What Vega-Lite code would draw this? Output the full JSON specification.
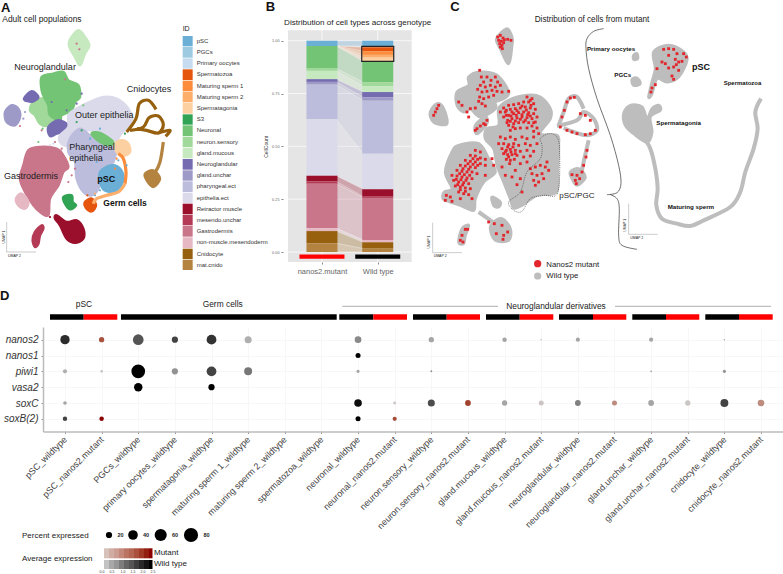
{"$schema":"https://vega.github.io/schema/vega-lite/v6.json","padding":0,"autosize":{"type":"pad"},"background":"white","bounds":"full","spacing":0,"config":{"font":"Liberation Sans","view":{"stroke":null},"concat":{"spacing":0}},
"datasets":{
"blobsA":[
{"s":"a1","id":"gland.mucous","x":235,"y":85},{"s":"a1","id":"gland.mucous","x":255,"y":105},{"s":"a1","id":"gland.mucous","x":268,"y":130},{"s":"a1","id":"gland.mucous","x":255,"y":155},{"s":"a1","id":"gland.mucous","x":240,"y":190},{"s":"a1","id":"gland.mucous","x":225,"y":165},{"s":"a1","id":"gland.mucous","x":208,"y":135},{"s":"a1","id":"gland.mucous","x":210,"y":112},
{"s":"a3","id":"neuron.sensory","x":100,"y":300},{"s":"a3","id":"neuron.sensory","x":135,"y":290},{"s":"a3","id":"neuron.sensory","x":150,"y":330},{"s":"a3","id":"neuron.sensory","x":165,"y":345},{"s":"a3","id":"neuron.sensory","x":145,"y":370},{"s":"a3","id":"neuron.sensory","x":120,"y":365},{"s":"a3","id":"neuron.sensory","x":105,"y":340},{"s":"a3","id":"neuron.sensory","x":90,"y":325},
{"s":"a2","id":"Neuronal","x":125,"y":225},{"s":"a2","id":"Neuronal","x":160,"y":215},{"s":"a2","id":"Neuronal","x":190,"y":210},{"s":"a2","id":"Neuronal","x":205,"y":235},{"s":"a2","id":"Neuronal","x":235,"y":250},{"s":"a2","id":"Neuronal","x":240,"y":285},{"s":"a2","id":"Neuronal","x":225,"y":300},{"s":"a2","id":"Neuronal","x":215,"y":325},{"s":"a2","id":"Neuronal","x":185,"y":340},{"s":"a2","id":"Neuronal","x":180,"y":355},{"s":"a2","id":"Neuronal","x":150,"y":340},{"s":"a2","id":"Neuronal","x":145,"y":310},{"s":"a2","id":"Neuronal","x":135,"y":290},{"s":"a2","id":"Neuronal","x":125,"y":265},
{"s":"a4","id":"Neuroglandular","x":145,"y":375},{"s":"a4","id":"Neuroglandular","x":175,"y":355},{"s":"a4","id":"Neuroglandular","x":205,"y":370},{"s":"a4","id":"Neuroglandular","x":200,"y":385},{"s":"a4","id":"Neuroglandular","x":170,"y":395},{"s":"a4","id":"Neuroglandular","x":150,"y":402},
{"s":"a5","id":"Neuroglandular","x":72,"y":290},{"s":"a5","id":"Neuroglandular","x":95,"y":268},{"s":"a5","id":"Neuroglandular","x":115,"y":285},{"s":"a5","id":"Neuroglandular","x":100,"y":298},{"s":"a5","id":"Neuroglandular","x":85,"y":298},
{"s":"a6","id":"gland.unchar","x":15,"y":330},{"s":"a6","id":"gland.unchar","x":35,"y":310},{"s":"a6","id":"gland.unchar","x":55,"y":320},{"s":"a6","id":"gland.unchar","x":60,"y":345},{"s":"a6","id":"gland.unchar","x":45,"y":370},{"s":"a6","id":"gland.unchar","x":20,"y":360},
{"s":"a7","id":"epithelia.ect","x":205,"y":340},{"s":"a7","id":"epithelia.ect","x":230,"y":320},{"s":"a7","id":"epithelia.ect","x":270,"y":300},{"s":"a7","id":"epithelia.ect","x":310,"y":285},{"s":"a7","id":"epithelia.ect","x":350,"y":290},{"s":"a7","id":"epithelia.ect","x":385,"y":320},{"s":"a7","id":"epithelia.ect","x":395,"y":355},{"s":"a7","id":"epithelia.ect","x":360,"y":400},{"s":"a7","id":"epithelia.ect","x":340,"y":430},{"s":"a7","id":"epithelia.ect","x":300,"y":390},{"s":"a7","id":"epithelia.ect","x":260,"y":385},{"s":"a7","id":"epithelia.ect","x":225,"y":395},{"s":"a7","id":"epithelia.ect","x":200,"y":430},{"s":"a7","id":"epithelia.ect","x":180,"y":420},{"s":"a7","id":"epithelia.ect","x":180,"y":400},{"s":"a7","id":"epithelia.ect","x":205,"y":375},
{"s":"a8","id":"pharyngeal.ect","x":210,"y":410},{"s":"a8","id":"pharyngeal.ect","x":240,"y":380},{"s":"a8","id":"pharyngeal.ect","x":270,"y":400},{"s":"a8","id":"pharyngeal.ect","x":300,"y":410},{"s":"a8","id":"pharyngeal.ect","x":345,"y":430},{"s":"a8","id":"pharyngeal.ect","x":340,"y":480},{"s":"a8","id":"pharyngeal.ect","x":310,"y":510},{"s":"a8","id":"pharyngeal.ect","x":295,"y":560},{"s":"a8","id":"pharyngeal.ect","x":275,"y":580},{"s":"a8","id":"pharyngeal.ect","x":250,"y":570},{"s":"a8","id":"pharyngeal.ect","x":230,"y":530},{"s":"a8","id":"pharyngeal.ect","x":225,"y":480},{"s":"a8","id":"pharyngeal.ect","x":205,"y":450},
{"s":"a9","id":"pSC","x":300,"y":510},{"s":"a9","id":"pSC","x":335,"y":490},{"s":"a9","id":"pSC","x":360,"y":500},{"s":"a9","id":"pSC","x":370,"y":530},{"s":"a9","id":"pSC","x":355,"y":560},{"s":"a9","id":"pSC","x":330,"y":570},{"s":"a9","id":"pSC","x":305,"y":555},
{"s":"a10","id":"Spermatagonia","x":345,"y":425},{"s":"a10","id":"Spermatagonia","x":365,"y":415},{"s":"a10","id":"Spermatagonia","x":385,"y":425},{"s":"a10","id":"Spermatagonia","x":390,"y":450},{"s":"a10","id":"Spermatagonia","x":370,"y":462},{"s":"a10","id":"Spermatagonia","x":350,"y":450},
{"s":"a11","id":"Spermatozoa","x":255,"y":600},{"s":"a11","id":"Spermatozoa","x":275,"y":590},{"s":"a11","id":"Spermatozoa","x":288,"y":610},{"s":"a11","id":"Spermatozoa","x":275,"y":628},{"s":"a11","id":"Spermatozoa","x":258,"y":618},
{"s":"a12","id":"S3","x":190,"y":585},{"s":"a12","id":"S3","x":215,"y":580},{"s":"a12","id":"S3","x":218,"y":600},{"s":"a12","id":"S3","x":228,"y":610},{"s":"a12","id":"S3","x":210,"y":622},{"s":"a12","id":"S3","x":195,"y":605},
{"s":"a13","id":"Neuronal","x":275,"y":395},{"s":"a13","id":"Neuronal","x":300,"y":393},{"s":"a13","id":"Neuronal","x":338,"y":418},{"s":"a13","id":"Neuronal","x":330,"y":430},{"s":"a13","id":"Neuronal","x":300,"y":420},
{"s":"a14","id":"Gastrodermis","x":85,"y":445},{"s":"a14","id":"Gastrodermis","x":120,"y":435},{"s":"a14","id":"Gastrodermis","x":170,"y":440},{"s":"a14","id":"Gastrodermis","x":190,"y":460},{"s":"a14","id":"Gastrodermis","x":205,"y":495},{"s":"a14","id":"Gastrodermis","x":190,"y":510},{"s":"a14","id":"Gastrodermis","x":175,"y":550},{"s":"a14","id":"Gastrodermis","x":150,"y":590},{"s":"a14","id":"Gastrodermis","x":145,"y":640},{"s":"a14","id":"Gastrodermis","x":120,"y":630},{"s":"a14","id":"Gastrodermis","x":100,"y":610},{"s":"a14","id":"Gastrodermis","x":75,"y":570},{"s":"a14","id":"Gastrodermis","x":60,"y":530},{"s":"a14","id":"Gastrodermis","x":70,"y":490},
{"s":"a15","id":"non-muscle.mesendoderm","x":48,"y":590},{"s":"a15","id":"non-muscle.mesendoderm","x":65,"y":575},{"s":"a15","id":"non-muscle.mesendoderm","x":85,"y":600},{"s":"a15","id":"non-muscle.mesendoderm","x":75,"y":620},{"s":"a15","id":"non-muscle.mesendoderm","x":55,"y":610},
{"s":"a16","id":"Retractor muscle","x":200,"y":660},{"s":"a16","id":"Retractor muscle","x":230,"y":655},{"s":"a16","id":"Retractor muscle","x":250,"y":680},{"s":"a16","id":"Retractor muscle","x":250,"y":710},{"s":"a16","id":"Retractor muscle","x":225,"y":722},{"s":"a16","id":"Retractor muscle","x":200,"y":710},{"s":"a16","id":"Retractor muscle","x":180,"y":670},{"s":"a16","id":"Retractor muscle","x":165,"y":650},{"s":"a16","id":"Retractor muscle","x":170,"y":640},
{"s":"a17","id":"mesendo.unchar","x":105,"y":690},{"s":"a17","id":"mesendo.unchar","x":125,"y":670},{"s":"a17","id":"mesendo.unchar","x":130,"y":680},{"s":"a17","id":"mesendo.unchar","x":120,"y":700},{"s":"a17","id":"mesendo.unchar","x":115,"y":725},{"s":"a17","id":"mesendo.unchar","x":105,"y":735},{"s":"a17","id":"mesendo.unchar","x":98,"y":715},
{"s":"a18","id":"mat.cnido","x":435,"y":515},{"s":"a18","id":"mat.cnido","x":460,"y":505},{"s":"a18","id":"mat.cnido","x":480,"y":530},{"s":"a18","id":"mat.cnido","x":460,"y":555},{"s":"a18","id":"mat.cnido","x":440,"y":535}],
"ribbonsA":[
{"s":"r1","id":"Maturing sperm 1","x":355,"y":455},{"s":"r1","id":"Maturing sperm 1","x":370,"y":470},{"s":"r1","id":"Maturing sperm 1","x":378,"y":510},{"s":"r1","id":"Maturing sperm 1","x":375,"y":545},
{"s":"r2","id":"Maturing sperm 2","x":375,"y":545},{"s":"r2","id":"Maturing sperm 2","x":355,"y":570},{"s":"r2","id":"Maturing sperm 2","x":320,"y":580},{"s":"r2","id":"Maturing sperm 2","x":290,"y":590},{"s":"r2","id":"Maturing sperm 2","x":280,"y":605},
{"s":"r3","id":"Cnidocyte","x":380,"y":390},{"s":"r3","id":"Cnidocyte","x":408,"y":350},{"s":"r3","id":"Cnidocyte","x":418,"y":305},{"s":"r3","id":"Cnidocyte","x":445,"y":295},{"s":"r3","id":"Cnidocyte","x":468,"y":322},
{"s":"r4","id":"Cnidocyte","x":390,"y":385},{"s":"r4","id":"Cnidocyte","x":430,"y":375},{"s":"r4","id":"Cnidocyte","x":447,"y":347},{"s":"r4","id":"Cnidocyte","x":475,"y":342},{"s":"r4","id":"Cnidocyte","x":490,"y":368},{"s":"r4","id":"Cnidocyte","x":475,"y":393},{"s":"r4","id":"Cnidocyte","x":440,"y":385},{"s":"r4","id":"Cnidocyte","x":410,"y":380},
{"s":"r5","id":"Cnidocyte","x":475,"y":393},{"s":"r5","id":"Cnidocyte","x":510,"y":385},{"s":"r5","id":"Cnidocyte","x":497,"y":403},
{"s":"r6","id":"mat.cnido","x":490,"y":420},{"s":"r6","id":"mat.cnido","x":480,"y":480},{"s":"r6","id":"mat.cnido","x":465,"y":512}],
"sprinkle":[{"id":"Neuroglandular","x":245,"y":275},{"id":"Neuroglandular","x":230,"y":305},{"id":"Neuroglandular","x":155,"y":300},{"id":"Neuroglandular","x":200,"y":325},{"id":"Gastrodermis","x":195,"y":232},{"id":"Gastrodermis","x":238,"y":142},{"id":"Gastrodermis","x":230,"y":125},{"id":"Gastrodermis","x":60,"y":372},{"id":"Gastrodermis","x":125,"y":385},{"id":"gland.unchar","x":70,"y":350},{"id":"gland.unchar","x":75,"y":330},{"id":"pSC","x":300,"y":380},{"id":"pSC","x":290,"y":480},{"id":"pSC","x":270,"y":410},{"id":"pSC","x":285,"y":580},{"id":"pSC","x":300,"y":565},{"id":"pSC","x":380,"y":490},{"id":"pSC","x":355,"y":475},{"id":"Gastrodermis","x":215,"y":520},{"id":"Gastrodermis","x":205,"y":540},{"id":"Gastrodermis","x":225,"y":500},{"id":"Gastrodermis","x":185,"y":440},{"id":"Gastrodermis","x":165,"y":420},{"id":"Retractor muscle","x":178,"y":650},{"id":"Retractor muscle","x":150,"y":645},{"id":"epithelia.ect","x":150,"y":430},{"id":"epithelia.ect","x":160,"y":425},{"id":"S3","x":230,"y":360},{"id":"S3","x":245,"y":385},{"id":"S3","x":375,"y":395},{"id":"Maturing sperm 1","x":345,"y":500},{"id":"Maturing sperm 1","x":350,"y":470},{"id":"Maturing sperm 2","x":285,"y":575},{"id":"Spermatozoa","x":262,"y":580},{"id":"Neuronal","x":250,"y":310},{"id":"Neuronal","x":115,"y":420},{"id":"Neuronal","x":128,"y":380},{"id":"mat.cnido","x":487,"y":445}],
"idKey":[{"id":"pSC","y0":102,"y1":133},{"id":"PGCs","y0":135,"y1":167},{"id":"Primary oocytes","y0":169,"y1":200},{"id":"Spermatozoa","y0":202,"y1":234},{"id":"Maturing sperm 1","y0":236,"y1":268},{"id":"Maturing sperm 2","y0":270,"y1":301},{"id":"Spermatagonia","y0":303,"y1":335},{"id":"S3","y0":337,"y1":368},{"id":"Neuronal","y0":370,"y1":402},{"id":"neuron.sensory","y0":404,"y1":435},{"id":"gland.mucous","y0":437,"y1":469},{"id":"Neuroglandular","y0":471,"y1":503},{"id":"gland.unchar","y0":505,"y1":536},{"id":"pharyngeal.ect","y0":538,"y1":570},{"id":"epithelia.ect","y0":572,"y1":603},{"id":"Retractor muscle","y0":605,"y1":637},{"id":"mesendo.unchar","y0":639,"y1":670},{"id":"Gastrodermis","y0":672,"y1":704},{"id":"non-muscle.mesendoderm","y0":706,"y1":738},{"id":"Cnidocyte","y0":740,"y1":771},{"id":"mat.cnido","y0":773,"y1":804}],
"strata":[
{"id":"pSC","pos":1,"edge":1.257,"lo":0.975,"hi":1},{"id":"Primary oocytes","pos":1,"edge":1.257,"lo":0.975,"hi":0.975},{"id":"Spermatozoa","pos":1,"edge":1.257,"lo":0.975,"hi":0.975},{"id":"Maturing sperm 1","pos":1,"edge":1.257,"lo":0.975,"hi":0.975},{"id":"Maturing sperm 2","pos":1,"edge":1.257,"lo":0.975,"hi":0.975},{"id":"Spermatagonia","pos":1,"edge":1.257,"lo":0.975,"hi":0.975},
{"id":"Neuronal","pos":1,"edge":1.257,"lo":0.868,"hi":0.975},{"id":"neuron.sensory","pos":1,"edge":1.257,"lo":0.857,"hi":0.868},{"id":"gland.mucous","pos":1,"edge":1.257,"lo":0.818,"hi":0.857},{"id":"Neuroglandular","pos":1,"edge":1.257,"lo":0.805,"hi":0.818},{"id":"gland.unchar","pos":1,"edge":1.257,"lo":0.792,"hi":0.805},{"id":"pharyngeal.ect","pos":1,"edge":1.257,"lo":0.628,"hi":0.792},{"id":"epithelia.ect","pos":1,"edge":1.257,"lo":0.361,"hi":0.628},{"id":"Retractor muscle","pos":1,"edge":1.257,"lo":0.334,"hi":0.361},{"id":"mesendo.unchar","pos":1,"edge":1.257,"lo":0.323,"hi":0.334},{"id":"Gastrodermis","pos":1,"edge":1.257,"lo":0.113,"hi":0.323},{"id":"non-muscle.mesendoderm","pos":1,"edge":1.257,"lo":0.099,"hi":0.113},{"id":"Cnidocyte","pos":1,"edge":1.257,"lo":0.041,"hi":0.099},{"id":"mat.cnido","pos":1,"edge":1.257,"lo":0,"hi":0.041},
{"id":"pSC","pos":2,"edge":1.743,"lo":0.975,"hi":1},{"id":"Primary oocytes","pos":2,"edge":1.743,"lo":0.969,"hi":0.975},{"id":"Spermatozoa","pos":2,"edge":1.743,"lo":0.95,"hi":0.969},{"id":"Maturing sperm 1","pos":2,"edge":1.743,"lo":0.933,"hi":0.95},{"id":"Maturing sperm 2","pos":2,"edge":1.743,"lo":0.92,"hi":0.933},{"id":"Spermatagonia","pos":2,"edge":1.743,"lo":0.902,"hi":0.92},
{"id":"Neuronal","pos":2,"edge":1.743,"lo":0.804,"hi":0.902},{"id":"neuron.sensory","pos":2,"edge":1.743,"lo":0.785,"hi":0.804},{"id":"gland.mucous","pos":2,"edge":1.743,"lo":0.757,"hi":0.785},{"id":"Neuroglandular","pos":2,"edge":1.743,"lo":0.732,"hi":0.757},{"id":"gland.unchar","pos":2,"edge":1.743,"lo":0.716,"hi":0.732},{"id":"pharyngeal.ect","pos":2,"edge":1.743,"lo":0.465,"hi":0.716},{"id":"epithelia.ect","pos":2,"edge":1.743,"lo":0.297,"hi":0.465},{"id":"Retractor muscle","pos":2,"edge":1.743,"lo":0.262,"hi":0.297},{"id":"mesendo.unchar","pos":2,"edge":1.743,"lo":0.256,"hi":0.262},{"id":"Gastrodermis","pos":2,"edge":1.743,"lo":0.057,"hi":0.256},{"id":"non-muscle.mesendoderm","pos":2,"edge":1.743,"lo":0.046,"hi":0.057},{"id":"Cnidocyte","pos":2,"edge":1.743,"lo":0.016,"hi":0.046},{"id":"mat.cnido","pos":2,"edge":1.743,"lo":0,"hi":0.016}],
"blobsC":[
{"s":"c1","x":235,"y":100},{"s":"c1","x":260,"y":80},{"s":"c1","x":275,"y":105},{"s":"c1","x":275,"y":130},{"s":"c1","x":265,"y":185},{"s":"c1","x":240,"y":140},{"s":"c1","x":228,"y":115},
{"s":"c2","x":145,"y":225},{"s":"c2","x":180,"y":210},{"s":"c2","x":230,"y":220},{"s":"c2","x":265,"y":270},{"s":"c2","x":250,"y":290},{"s":"c2","x":225,"y":300},{"s":"c2","x":225,"y":320},{"s":"c2","x":185,"y":345},{"s":"c2","x":165,"y":335},{"s":"c2","x":150,"y":320},{"s":"c2","x":130,"y":330},{"s":"c2","x":110,"y":310},{"s":"c2","x":110,"y":270},{"s":"c2","x":145,"y":250},
{"s":"c3","x":30,"y":330},{"s":"c3","x":50,"y":305},{"s":"c3","x":70,"y":320},{"s":"c3","x":80,"y":365},{"s":"c3","x":50,"y":365},{"s":"c3","x":35,"y":355},
{"s":"c4","x":235,"y":320},{"s":"c4","x":265,"y":295},{"s":"c4","x":320,"y":280},{"s":"c4","x":360,"y":285},{"s":"c4","x":390,"y":320},{"s":"c4","x":390,"y":350},{"s":"c4","x":360,"y":395},{"s":"c4","x":410,"y":400},{"s":"c4","x":415,"y":430},{"s":"c4","x":412,"y":500},{"s":"c4","x":408,"y":570},{"s":"c4","x":350,"y":580},{"s":"c4","x":305,"y":610},{"s":"c4","x":280,"y":618},{"s":"c4","x":270,"y":590},{"s":"c4","x":250,"y":540},{"s":"c4","x":230,"y":490},{"s":"c4","x":220,"y":440},{"s":"c4","x":195,"y":410},{"s":"c4","x":200,"y":380},{"s":"c4","x":235,"y":370},
{"s":"c5","x":115,"y":430},{"s":"c5","x":175,"y":425},{"s":"c5","x":205,"y":470},{"s":"c5","x":225,"y":510},{"s":"c5","x":190,"y":540},{"s":"c5","x":165,"y":590},{"s":"c5","x":160,"y":625},{"s":"c5","x":120,"y":610},{"s":"c5","x":90,"y":600},{"s":"c5","x":68,"y":590},{"s":"c5","x":72,"y":570},{"s":"c5","x":95,"y":560},{"s":"c5","x":75,"y":510},{"s":"c5","x":95,"y":450},
{"s":"c6","x":215,"y":585},{"s":"c6","x":240,"y":600},{"s":"c6","x":235,"y":615},{"s":"c6","x":220,"y":610},
{"s":"c7","x":220,"y":660},{"s":"c7","x":245,"y":650},{"s":"c7","x":270,"y":680},{"s":"c7","x":265,"y":715},{"s":"c7","x":225,"y":715},{"s":"c7","x":210,"y":680},
{"s":"c8","x":125,"y":680},{"s":"c8","x":145,"y":670},{"s":"c8","x":135,"y":700},{"s":"c8","x":130,"y":725},{"s":"c8","x":115,"y":720},
{"s":"c9","x":165,"y":370},{"s":"c9","x":195,"y":345},{"s":"c9","x":200,"y":365},{"s":"c9","x":170,"y":395},
{"s":"c10","x":450,"y":510},{"s":"c10","x":475,"y":500},{"s":"c10","x":495,"y":525},{"s":"c10","x":470,"y":550},{"s":"c10","x":455,"y":530},
{"s":"c11","x":700,"y":150},{"s":"c11","x":745,"y":130},{"s":"c11","x":790,"y":150},{"s":"c11","x":800,"y":175},{"s":"c11","x":775,"y":225},{"s":"c11","x":740,"y":240},{"s":"c11","x":710,"y":230},{"s":"c11","x":695,"y":275},{"s":"c11","x":685,"y":285},{"s":"c11","x":695,"y":240},{"s":"c11","x":705,"y":200},
{"s":"c12","x":635,"y":232},{"s":"c12","x":650,"y":228},{"s":"c12","x":660,"y":245},{"s":"c12","x":640,"y":250},
{"s":"c13","x":640,"y":160},{"s":"c13","x":650,"y":155},{"s":"c13","x":652,"y":170},{"s":"c13","x":640,"y":172},
{"s":"c14","x":610,"y":335},{"s":"c14","x":630,"y":310},{"s":"c14","x":665,"y":315},{"s":"c14","x":680,"y":350},{"s":"c14","x":695,"y":320},{"s":"c14","x":715,"y":310},{"s":"c14","x":720,"y":325},{"s":"c14","x":690,"y":345},{"s":"c14","x":695,"y":390},{"s":"c14","x":680,"y":420},{"s":"c14","x":640,"y":395},{"s":"c14","x":615,"y":370}],
"ribbonsC":[
{"s":"n1","x":415,"y":370},{"s":"n1","x":430,"y":330},{"s":"n1","x":445,"y":290},{"s":"n1","x":470,"y":285},{"s":"n1","x":490,"y":320},
{"s":"n2","x":410,"y":372},{"s":"n2","x":470,"y":355},{"s":"n2","x":490,"y":330},{"s":"n2","x":520,"y":350},{"s":"n2","x":530,"y":385},{"s":"n2","x":500,"y":400},{"s":"n2","x":460,"y":390},{"s":"n2","x":430,"y":378},
{"s":"n3","x":505,"y":415},{"s":"n3","x":490,"y":480},{"s":"n3","x":480,"y":530},
{"s":"n4","x":175,"y":630},{"s":"n4","x":220,"y":662},
{"s":"n5","x":665,"y":400},{"s":"n5","x":690,"y":440},{"s":"n5","x":705,"y":500},{"s":"n5","x":712,"y":560},{"s":"n5","x":708,"y":610},{"s":"n5","x":725,"y":650},{"s":"n5","x":770,"y":665},{"s":"n5","x":810,"y":672},{"s":"n5","x":850,"y":655},{"s":"n5","x":930,"y":615},{"s":"n5","x":960,"y":570},{"s":"n5","x":975,"y":510},{"s":"n5","x":1000,"y":440},{"s":"n5","x":1012,"y":380},{"s":"n5","x":1005,"y":330},{"s":"n5","x":1022,"y":290}],
"redC":[{"x":232,"y":105},{"x":240,"y":100},{"x":248,"y":108},{"x":235,"y":115},{"x":243,"y":118},{"x":252,"y":113},{"x":262,"y":112},{"x":272,"y":115},{"x":238,"y":125},{"x":245,"y":130},{"x":250,"y":122},{"x":240,"y":135},{"x":246,"y":140},
{"x":178,"y":205},{"x":183,"y":225},{"x":190,"y":240},{"x":200,"y":225},{"x":212,"y":235},{"x":225,"y":225},{"x":232,"y":240},{"x":240,"y":250},{"x":225,"y":255},{"x":210,"y":250},{"x":195,"y":255},{"x":180,"y":250},{"x":172,"y":262},{"x":185,"y":270},{"x":200,"y":268},{"x":215,"y":265},{"x":230,"y":268},{"x":245,"y":270},{"x":265,"y":268},{"x":178,"y":285},{"x":190,"y":290},{"x":205,"y":285},{"x":220,"y":280},{"x":185,"y":305},{"x":175,"y":298},{"x":195,"y":312},{"x":165,"y":318},{"x":150,"y":320},{"x":140,"y":330},{"x":145,"y":345},{"x":125,"y":310},{"x":115,"y":300},{"x":170,"y":380},{"x":180,"y":372},{"x":190,"y":365},{"x":165,"y":385},{"x":200,"y":355},{"x":195,"y":368},{"x":40,"y":340},{"x":55,"y":310},{"x":50,"y":320},{"x":45,"y":330},
{"x":320,"y":285},{"x":335,"y":290},{"x":325,"y":300},{"x":340,"y":305},{"x":310,"y":300},{"x":295,"y":305},{"x":280,"y":308},{"x":265,"y":310},{"x":250,"y":318},{"x":240,"y":330},{"x":255,"y":330},{"x":270,"y":322},{"x":285,"y":320},{"x":300,"y":318},{"x":315,"y":315},{"x":330,"y":318},{"x":345,"y":322},{"x":250,"y":345},{"x":265,"y":340},{"x":280,"y":335},{"x":295,"y":332},{"x":310,"y":330},{"x":325,"y":332},{"x":340,"y":335},{"x":350,"y":345},{"x":262,"y":355},{"x":275,"y":350},{"x":290,"y":348},{"x":305,"y":345},{"x":320,"y":347},{"x":335,"y":350},{"x":345,"y":360},{"x":265,"y":370},{"x":280,"y":365},{"x":295,"y":362},{"x":310,"y":360},{"x":325,"y":362},{"x":335,"y":372},{"x":350,"y":378},{"x":270,"y":385},{"x":285,"y":380},{"x":300,"y":378},{"x":320,"y":378},{"x":340,"y":388},{"x":355,"y":395},
{"x":258,"y":325},{"x":275,"y":330},{"x":290,"y":326},{"x":305,"y":338},{"x":318,"y":324},{"x":332,"y":310},{"x":258,"y":340},{"x":272,"y":342},{"x":288,"y":340},{"x":300,"y":352},{"x":315,"y":355},{"x":330,"y":342},{"x":270,"y":358},{"x":285,"y":357},{"x":322,"y":338},{"x":278,"y":375},{"x":340,"y":362},{"x":330,"y":295},{"x":305,"y":312},{"x":260,"y":362},
{"x":240,"y":405},{"x":255,"y":410},{"x":270,"y":405},{"x":285,"y":412},{"x":305,"y":405},{"x":320,"y":410},{"x":340,"y":405},{"x":235,"y":425},{"x":250,"y":425},{"x":265,"y":428},{"x":280,"y":425},{"x":295,"y":430},{"x":315,"y":425},{"x":330,"y":430},{"x":350,"y":425},{"x":245,"y":440},{"x":258,"y":445},{"x":270,"y":442},{"x":285,"y":445},{"x":300,"y":448},{"x":320,"y":445},{"x":340,"y":448},{"x":250,"y":455},{"x":262,"y":458},{"x":275,"y":458},{"x":290,"y":460},{"x":310,"y":465},{"x":330,"y":462},{"x":258,"y":472},{"x":270,"y":475},{"x":282,"y":472},{"x":300,"y":485},{"x":320,"y":480},{"x":268,"y":485},{"x":245,"y":495},{"x":285,"y":505},{"x":255,"y":520},{"x":275,"y":525},{"x":300,"y":530},{"x":290,"y":548},{"x":305,"y":570},
{"x":262,"y":435},{"x":272,"y":450},{"x":265,"y":465},{"x":278,"y":435},{"x":255,"y":450},{"x":285,"y":455},
{"x":330,"y":500},{"x":345,"y":495},{"x":360,"y":490},{"x":375,"y":495},{"x":385,"y":505},{"x":335,"y":515},{"x":350,"y":520},{"x":365,"y":515},{"x":340,"y":535},{"x":355,"y":540},{"x":370,"y":530},{"x":345,"y":550},{"x":380,"y":480},
{"x":165,"y":445},{"x":180,"y":450},{"x":150,"y":460},{"x":165,"y":462},{"x":180,"y":468},{"x":195,"y":472},{"x":135,"y":475},{"x":150,"y":478},{"x":165,"y":480},{"x":180,"y":485},{"x":195,"y":490},{"x":120,"y":490},{"x":135,"y":492},{"x":150,"y":495},{"x":165,"y":497},{"x":110,"y":505},{"x":125,"y":508},{"x":140,"y":510},{"x":155,"y":510},{"x":170,"y":515},{"x":95,"y":520},{"x":110,"y":522},{"x":125,"y":525},{"x":140,"y":528},{"x":155,"y":530},{"x":100,"y":535},{"x":115,"y":540},{"x":130,"y":542},{"x":145,"y":545},{"x":105,"y":552},{"x":120,"y":555},{"x":135,"y":558},{"x":150,"y":560},{"x":115,"y":570},{"x":130,"y":575},{"x":145,"y":578},{"x":155,"y":590},{"x":120,"y":590},{"x":78,"y":580},{"x":90,"y":585},{"x":75,"y":595},{"x":95,"y":598},{"x":215,"y":470},{"x":220,"y":490},{"x":195,"y":520},
{"x":158,"y":470},{"x":172,"y":472},{"x":143,"y":485},{"x":158,"y":487},{"x":172,"y":490},{"x":128,"y":500},{"x":145,"y":502},{"x":118,"y":515},{"x":132,"y":518},{"x":148,"y":520},{"x":108,"y":532},{"x":122,"y":533},{"x":137,"y":535},{"x":112,"y":548},{"x":127,"y":549},{"x":120,"y":563},{"x":135,"y":568},
{"x":440,"y":300},{"x":450,"y":288},{"x":462,"y":286},{"x":432,"y":325},{"x":425,"y":345},{"x":420,"y":375},{"x":440,"y":385},{"x":455,"y":390},{"x":480,"y":335},{"x":495,"y":340},{"x":510,"y":355},{"x":525,"y":385},{"x":510,"y":395},{"x":495,"y":398},{"x":470,"y":395},{"x":500,"y":445},{"x":497,"y":465},{"x":490,"y":490},{"x":485,"y":510},{"x":470,"y":520},{"x":478,"y":530},{"x":465,"y":535},{"x":455,"y":518},{"x":468,"y":545},
{"x":135,"y":682},{"x":125,"y":700},{"x":120,"y":715},{"x":128,"y":720},{"x":142,"y":682},{"x":205,"y":660},{"x":222,"y":665},{"x":245,"y":670},{"x":262,"y":690},{"x":250,"y":700},{"x":248,"y":712},{"x":228,"y":695},
{"x":730,"y":142},{"x":745,"y":140},{"x":760,"y":142},{"x":770,"y":155},{"x":790,"y":155},{"x":798,"y":165},{"x":765,"y":172},{"x":775,"y":180},{"x":768,"y":188},{"x":785,"y":178},{"x":725,"y":180},{"x":735,"y":185},{"x":710,"y":200},{"x":745,"y":198},{"x":760,"y":195},{"x":775,"y":205},{"x":755,"y":222},{"x":760,"y":232},{"x":705,"y":248},{"x":695,"y":258},{"x":692,"y":270},{"x":745,"y":160}],
"curve":[{"x":550,"y":80},{"x":520,"y":88},{"x":500,"y":110},{"x":497,"y":140},{"x":505,"y":200},{"x":530,"y":290},{"x":570,"y":400},{"x":595,"y":490},{"x":602,"y":545},{"x":590,"y":572},{"x":560,"y":578}],
"curve2":[{"x":570,"y":578},{"x":590,"y":590},{"x":597,"y":620},{"x":595,"y":700},{"x":605,"y":730},{"x":650,"y":742}],
"dots":[
{"cell":"pSC_wildtype","gene":"nanos2","pct":38,"exp":2.0,"g":"wt"},{"cell":"pSC_nanos2.mutant","gene":"nanos2","pct":16,"exp":1.7,"g":"mut"},{"cell":"PGCs_wildtype","gene":"nanos2","pct":48,"exp":1.5,"g":"wt"},{"cell":"primary oocytes_wildtype","gene":"nanos2","pct":20,"exp":1.7,"g":"wt"},{"cell":"spermatagonia_wildtype","gene":"nanos2","pct":41,"exp":1.9,"g":"wt"},{"cell":"maturing sperm 1_wildtype","gene":"nanos2","pct":24,"exp":0.5,"g":"wt"},{"cell":"neuronal_wildtype","gene":"nanos2","pct":22,"exp":0.9,"g":"wt"},{"cell":"neuron.sensory_wildtype","gene":"nanos2","pct":16,"exp":0.6,"g":"wt"},{"cell":"gland.mucous_wildtype","gene":"nanos2","pct":13,"exp":0.6,"g":"wt"},{"cell":"gland.mucous_nanos2.mutant","gene":"nanos2","pct":6.6,"exp":0.1,"g":"mut"},{"cell":"neuroglandular_wildtype","gene":"nanos2","pct":12,"exp":0.6,"g":"wt"},{"cell":"gland.unchar_wildtype","gene":"nanos2","pct":12,"exp":0.6,"g":"wt"},{"cell":"cnidocyte_wildtype","gene":"nanos2","pct":6.3,"exp":0.7,"g":"wt"},
{"cell":"neuronal_wildtype","gene":"nanos1","pct":15,"exp":2.5,"g":"wt"},
{"cell":"pSC_wildtype","gene":"piwi1","pct":12,"exp":0.5,"g":"wt"},{"cell":"pSC_nanos2.mutant","gene":"piwi1","pct":8.6,"exp":0.1,"g":"mut"},{"cell":"PGCs_wildtype","gene":"piwi1","pct":75,"exp":2.5,"g":"wt"},{"cell":"primary oocytes_wildtype","gene":"piwi1","pct":20,"exp":0.8,"g":"wt"},{"cell":"spermatagonia_wildtype","gene":"piwi1","pct":41,"exp":1.7,"g":"wt"},{"cell":"maturing sperm 1_wildtype","gene":"piwi1","pct":29,"exp":1.1,"g":"wt"},{"cell":"neuronal_wildtype","gene":"piwi1","pct":9.5,"exp":0.6,"g":"wt"},{"cell":"neuron.sensory_wildtype","gene":"piwi1","pct":7,"exp":0.8,"g":"wt"},{"cell":"gland.unchar_wildtype","gene":"piwi1","pct":6.6,"exp":0.8,"g":"wt"},{"cell":"cnidocyte_wildtype","gene":"piwi1","pct":9.5,"exp":0.8,"g":"wt"},
{"cell":"PGCs_wildtype","gene":"vasa2","pct":32,"exp":2.5,"g":"wt"},{"cell":"spermatagonia_wildtype","gene":"vasa2","pct":20,"exp":2.5,"g":"wt"},
{"cell":"pSC_wildtype","gene":"soxC","pct":10.6,"exp":0.6,"g":"wt"},{"cell":"neuronal_wildtype","gene":"soxC","pct":27,"exp":2.4,"g":"wt"},{"cell":"neuronal_nanos2.mutant","gene":"soxC","pct":8.6,"exp":0.1,"g":"mut"},{"cell":"neuron.sensory_wildtype","gene":"soxC","pct":24,"exp":1.6,"g":"wt"},{"cell":"neuron.sensory_nanos2.mutant","gene":"soxC","pct":18,"exp":1.9,"g":"mut"},{"cell":"gland.mucous_wildtype","gene":"soxC","pct":16,"exp":0.6,"g":"wt"},{"cell":"gland.mucous_nanos2.mutant","gene":"soxC","pct":15,"exp":0.1,"g":"mut"},{"cell":"neuroglandular_wildtype","gene":"soxC","pct":18,"exp":1.0,"g":"wt"},{"cell":"neuroglandular_nanos2.mutant","gene":"soxC","pct":15,"exp":0.9,"g":"mut"},{"cell":"gland.unchar_wildtype","gene":"soxC","pct":18,"exp":0.6,"g":"wt"},{"cell":"gland.unchar_nanos2.mutant","gene":"soxC","pct":16,"exp":0.1,"g":"mut"},{"cell":"cnidocyte_wildtype","gene":"soxC","pct":29,"exp":1.7,"g":"wt"},{"cell":"cnidocyte_nanos2.mutant","gene":"soxC","pct":22,"exp":0.9,"g":"mut"},
{"cell":"pSC_wildtype","gene":"soxB(2)","pct":13,"exp":1.7,"g":"wt"},{"cell":"pSC_nanos2.mutant","gene":"soxB(2)","pct":13,"exp":2.5,"g":"mut"},{"cell":"neuronal_wildtype","gene":"soxB(2)","pct":15,"exp":2.5,"g":"wt"},{"cell":"neuronal_nanos2.mutant","gene":"soxB(2)","pct":12,"exp":1.8,"g":"mut"}]
},
"vconcat":[
{"bounds":"flush","spacing":0,"hconcat":[
{"width":283,"height":283,"layer":[
{"data":{"name":"blobsA"},"transform":[{"window":[{"op":"row_number","as":"o"}]}],"mark":{"type":"line","filled":true,"interpolate":"cardinal-closed","strokeWidth":2.5,"strokeJoin":"round"},"encoding":{"x":{"field":"x","type":"quantitative"},"y":{"field":"y","type":"quantitative"},"detail":{"field":"s"},"order":{"field":"o","type":"quantitative"},"stroke":{"field":"id","type":"nominal","legend":null,"scale":{"domain":["pSC","PGCs","Primary oocytes","Spermatozoa","Maturing sperm 1","Maturing sperm 2","Spermatagonia","S3","Neuronal","neuron.sensory","gland.mucous","Neuroglandular","gland.unchar","pharyngeal.ect","epithelia.ect","Retractor muscle","mesendo.unchar","Gastrodermis","non-muscle.mesendoderm","Cnidocyte","mat.cnido"],"range":["#6baed6","#9ecae1","#c6dbef","#e6550d","#fd8d3c","#fdae6b","#fdd0a2","#31a354","#74c476","#a1d99b","#c7e9c0","#756bb1","#9e9ac8","#bcbddc","#dadaeb","#9a0f2b","#b43a55","#c9758a","#e5b8c4","#96600f","#b48340"]}}}},
{"data":{"name":"ribbonsA"},"transform":[{"window":[{"op":"row_number","as":"o"}]}],"mark":{"type":"line","strokeWidth":3.2,"interpolate":"cardinal"},"encoding":{"x":{"field":"x","type":"quantitative"},"y":{"field":"y","type":"quantitative"},"detail":{"field":"s"},"order":{"field":"o","type":"quantitative"}}},
{"data":{"name":"sprinkle"},"mark":{"type":"point","filled":true,"size":5,"opacity":1},"encoding":{"x":{"field":"x","type":"quantitative"},"y":{"field":"y","type":"quantitative"}}},
{"data":{"name":"idKey"},"mark":{"type":"rect"},"encoding":{"x":{"datum":548,"type":"quantitative"},"x2":{"datum":578},"y":{"field":"y0","type":"quantitative"},"y2":{"field":"y1"}}},
{"data":{"name":"idKey"},"mark":{"type":"text","align":"left","baseline":"middle","fontSize":6,"dy":5},"encoding":{"x":{"datum":590,"type":"quantitative"},"y":{"field":"y0","type":"quantitative"},"text":{"field":"id"},"color":{"value":"#333"}}},
{"data":{"values":[{"t":"Adult cell populations","x":7,"y":50,"f":8.4},{"t":"ID","x":548,"y":82,"f":7},{"t":"Neuroglandular","x":43,"y":195,"f":9},{"t":"Cnidocytes","x":380,"y":262,"f":9},{"t":"Outer epithelia","x":225,"y":338,"f":9},{"t":"Pharyngeal","x":208,"y":436,"f":9},{"t":"epithelia","x":208,"y":468,"f":9},{"t":"Gastrodermis","x":12,"y":522,"f":9},{"t":"UMAP 2","x":24,"y":762,"f":3.5}]},"mark":{"type":"text","align":"left"},"encoding":{"x":{"field":"x","type":"quantitative"},"y":{"field":"y","type":"quantitative"},"text":{"field":"t"},"size":{"field":"f","type":"quantitative","scale":null},"color":{"value":"#222"}}},
{"data":{"values":[{"t":"A","x":3,"y":18,"f":13},{"t":"pSC","x":292,"y":530,"f":9},{"t":"Germ cells","x":310,"y":602,"f":8.5}]},"mark":{"type":"text","align":"left","fontWeight":"bold"},"encoding":{"x":{"field":"x","type":"quantitative"},"y":{"field":"y","type":"quantitative"},"text":{"field":"t"},"size":{"field":"f","type":"quantitative","scale":null},"color":{"value":"#111"}}},
{"data":{"values":[{"t":"UMAP 1","x":13,"y":705}]},"mark":{"type":"text","angle":270,"fontSize":3.5,"align":"center"},"encoding":{"x":{"field":"x","type":"quantitative"},"y":{"field":"y","type":"quantitative"},"text":{"field":"t"},"color":{"value":"#222"}}},
{"data":{"values":[{"x":20,"y":660},{"x":20,"y":750},{"x":108,"y":750}]},"transform":[{"window":[{"op":"row_number","as":"o"}]}],"mark":{"type":"line","strokeWidth":0.6},"encoding":{"x":{"field":"x","type":"quantitative"},"y":{"field":"y","type":"quantitative"},"order":{"field":"o","type":"quantitative"},"color":{"value":"#aaa"}}}
],
"encoding":{"x":{"type":"quantitative","axis":null,"scale":{"domain":[0,849]}},"y":{"type":"quantitative","axis":null,"scale":{"domain":[849,0]}},"color":{"field":"id","type":"nominal","legend":null,"scale":{"domain":["pSC","PGCs","Primary oocytes","Spermatozoa","Maturing sperm 1","Maturing sperm 2","Spermatagonia","S3","Neuronal","neuron.sensory","gland.mucous","Neuroglandular","gland.unchar","pharyngeal.ect","epithelia.ect","Retractor muscle","mesendo.unchar","Gastrodermis","non-muscle.mesendoderm","Cnidocyte","mat.cnido"],"range":["#6baed6","#9ecae1","#c6dbef","#e6550d","#fd8d3c","#fdae6b","#fdd0a2","#31a354","#74c476","#a1d99b","#c7e9c0","#756bb1","#9e9ac8","#bcbddc","#dadaeb","#9a0f2b","#b43a55","#c9758a","#e5b8c4","#96600f","#b48340"]}}}
},
{"width":133.7,"height":283,"layer":[
{"data":{"values":[{"a":0.391,"b":2.609,"c":-0.047,"d":1.05}]},"mark":{"type":"rect"},"encoding":{"x":{"field":"a","type":"quantitative"},"x2":{"field":"b"},"y":{"field":"c","type":"quantitative"},"y2":{"field":"d"},"color":{"value":"#e5e5e5"}}},
{"data":{"values":[{"v":0},{"v":0.25},{"v":0.5},{"v":0.75},{"v":1}]},"mark":{"type":"rule","strokeWidth":0.7},"encoding":{"x":{"datum":0.391,"type":"quantitative"},"x2":{"datum":2.609},"y":{"field":"v","type":"quantitative"},"color":{"value":"#ffffff"}}},
{"data":{"values":[{"u":1},{"u":2}]},"mark":{"type":"rule","strokeWidth":0.7},"encoding":{"x":{"field":"u","type":"quantitative"},"y":{"datum":-0.047,"type":"quantitative"},"y2":{"datum":1.05},"color":{"value":"#ffffff"}}},
{"data":{"name":"strata"},"mark":{"type":"area","opacity":0.3,"stroke":"white","strokeWidth":0.4},"encoding":{"x":{"field":"edge","type":"quantitative"},"y":{"field":"lo","type":"quantitative"},"y2":{"field":"hi"}}},
{"data":{"name":"strata"},"mark":{"type":"bar","width":31},"encoding":{"x":{"field":"pos","type":"quantitative"},"y":{"field":"lo","type":"quantitative"},"y2":{"field":"hi"}}},
{"data":{"values":[{"pos":1,"lo":-0.032,"hi":-0.012}]},"mark":{"type":"bar","width":45},"encoding":{"x":{"field":"pos","type":"quantitative"},"y":{"field":"lo","type":"quantitative"},"y2":{"field":"hi"},"color":{"value":"#ff0000"}}},
{"data":{"values":[{"pos":2,"lo":-0.032,"hi":-0.012}]},"mark":{"type":"bar","width":45},"encoding":{"x":{"field":"pos","type":"quantitative"},"y":{"field":"lo","type":"quantitative"},"y2":{"field":"hi"},"color":{"value":"#000000"}}},
{"data":{"values":[{"pos":2,"lo":0.902,"hi":0.973}]},"mark":{"type":"bar","width":32,"fillOpacity":0,"stroke":"#222","strokeWidth":1.2},"encoding":{"x":{"field":"pos","type":"quantitative"},"y":{"field":"lo","type":"quantitative"},"y2":{"field":"hi"},"color":{"value":"#222"}}},
{"data":{"values":[{"t":"Distribution of cell types across genotype","x":0.32,"y":1.085}]},"mark":{"type":"text","align":"left","fontSize":8.1},"encoding":{"x":{"field":"x","type":"quantitative"},"y":{"field":"y","type":"quantitative"},"text":{"field":"t"},"color":{"value":"#222"}}},
{"data":{"values":[{"t":"B","x":-0.007,"y":1.16}]},"mark":{"type":"text","align":"left","fontSize":13,"fontWeight":"bold"},"encoding":{"x":{"field":"x","type":"quantitative"},"y":{"field":"y","type":"quantitative"},"text":{"field":"t"},"color":{"value":"#111"}}}
],
"encoding":{"x":{"type":"quantitative","scale":{"domain":[0.391,2.609],"nice":false},"axis":{"values":[1,2],"labelExpr":"datum.value==1?'nanos2.mutant':'Wild type'","title":null,"labelFontSize":7.5,"labelColor":"#666","tickColor":"#888","tickSize":2,"grid":false,"domain":false,"labelPadding":3,"offset":-23}},"y":{"type":"quantitative","scale":{"domain":[0,1],"range":[250,38.7],"nice":false,"zero":false},"axis":{"values":[0,0.25,0.5,0.75,1],"format":".2f","title":"CellCount","titleFontSize":5,"titleFontWeight":"normal","titleColor":"#333","titlePadding":3,"labelFontSize":3.8,"labelColor":"#666","tickColor":"#888","tickSize":2,"grid":false,"domain":false,"labelPadding":2}},"color":{"field":"id","type":"nominal","legend":null,"scale":{"domain":["pSC","PGCs","Primary oocytes","Spermatozoa","Maturing sperm 1","Maturing sperm 2","Spermatagonia","S3","Neuronal","neuron.sensory","gland.mucous","Neuroglandular","gland.unchar","pharyngeal.ect","epithelia.ect","Retractor muscle","mesendo.unchar","Gastrodermis","non-muscle.mesendoderm","Cnidocyte","mat.cnido"],"range":["#6baed6","#9ecae1","#c6dbef","#e6550d","#fd8d3c","#fdae6b","#fdd0a2","#31a354","#74c476","#a1d99b","#c7e9c0","#756bb1","#9e9ac8","#bcbddc","#dadaeb","#9a0f2b","#b43a55","#c9758a","#e5b8c4","#96600f","#b48340"]}}}
},
{"width":366.3,"height":283,"layer":[
{"data":{"name":"blobsC"},"transform":[{"window":[{"op":"row_number","as":"o"}]}],"mark":{"type":"line","fill":"#bdbdbd","stroke":"#bdbdbd","interpolate":"cardinal-closed","strokeWidth":3,"strokeJoin":"round"},"encoding":{"x":{"field":"x","type":"quantitative"},"y":{"field":"y","type":"quantitative"},"detail":{"field":"s"},"order":{"field":"o","type":"quantitative"}}},
{"data":{"name":"ribbonsC"},"transform":[{"window":[{"op":"row_number","as":"o"}]}],"mark":{"type":"line","stroke":"#bdbdbd","strokeWidth":4,"interpolate":"cardinal"},"encoding":{"x":{"field":"x","type":"quantitative"},"y":{"field":"y","type":"quantitative"},"detail":{"field":"s"},"order":{"field":"o","type":"quantitative"}}},
{"data":{"name":"redC"},"mark":{"type":"square","size":8,"color":"#e3262b","opacity":1},"encoding":{"x":{"field":"x","type":"quantitative"},"y":{"field":"y","type":"quantitative"}}},
{"data":{"name":"curve"},"transform":[{"window":[{"op":"row_number","as":"o"}]}],"mark":{"type":"line","stroke":"#333","strokeWidth":0.7,"interpolate":"cardinal"},"encoding":{"x":{"field":"x","type":"quantitative"},"y":{"field":"y","type":"quantitative"},"order":{"field":"o","type":"quantitative"}}},
{"data":{"name":"curve2"},"transform":[{"window":[{"op":"row_number","as":"o"}]}],"mark":{"type":"line","stroke":"#333","strokeWidth":0.7,"interpolate":"cardinal"},"encoding":{"x":{"field":"x","type":"quantitative"},"y":{"field":"y","type":"quantitative"},"order":{"field":"o","type":"quantitative"}}},
{"data":{"values":[{"x":360,"y":410},{"x":385,"y":395},{"x":410,"y":405},{"x":418,"y":450},{"x":412,"y":572},{"x":370,"y":580},{"x":330,"y":590},{"x":305,"y":628},{"x":280,"y":625},{"x":265,"y":600},{"x":300,"y":570},{"x":320,"y":510},{"x":360,"y":470},{"x":365,"y":430}]},"transform":[{"window":[{"op":"row_number","as":"o"}]}],"mark":{"type":"line","stroke":"#333","strokeWidth":0.6,"strokeDash":[1,1],"interpolate":"cardinal-closed"},"encoding":{"x":{"field":"x","type":"quantitative"},"y":{"field":"y","type":"quantitative"},"order":{"field":"o","type":"quantitative"}}},
{"data":{"values":[{"s":"a","x":37,"y":662},{"s":"a","x":37,"y":752},{"s":"a","x":125,"y":752},{"s":"b","x":625,"y":605},{"s":"b","x":625,"y":697},{"s":"b","x":712,"y":697}]},"transform":[{"window":[{"op":"row_number","as":"o"}]}],"mark":{"type":"line","stroke":"#aaa","strokeWidth":0.6},"encoding":{"x":{"field":"x","type":"quantitative"},"y":{"field":"y","type":"quantitative"},"detail":{"field":"s"},"order":{"field":"o","type":"quantitative"}}},
{"data":{"values":[{"x":352,"y":785,"g":"Nanos2 mutant"}]},"mark":{"type":"circle","size":52,"color":"#e3262b","opacity":1},"encoding":{"x":{"field":"x","type":"quantitative"},"y":{"field":"y","type":"quantitative"}}},
{"data":{"values":[{"x":352,"y":822,"g":"Wild type"}]},"mark":{"type":"circle","size":52,"color":"#bdbdbd","opacity":1},"encoding":{"x":{"field":"x","type":"quantitative"},"y":{"field":"y","type":"quantitative"}}},
{"data":{"values":[{"t":"Distribution of cells from mutant","x":343,"y":55,"f":8.2},{"t":"pSC/PGC","x":417,"y":582,"f":8},{"t":"Nanos2 mutant","x":378,"y":789,"f":7.8},{"t":"Wild type","x":378,"y":822,"f":7.8},{"t":"UMAP 2","x":40,"y":762,"f":3.5},{"t":"UMAP 2","x":630,"y":707,"f":3.5}]},"mark":{"type":"text","align":"left","color":"#222"},"encoding":{"x":{"field":"x","type":"quantitative"},"y":{"field":"y","type":"quantitative"},"text":{"field":"t"},"size":{"field":"f","type":"quantitative","scale":null}}},
{"data":{"values":[{"t":"C","x":90,"y":15,"f":13},{"t":"Primary oocytes","x":500,"y":142,"f":6.2},{"t":"PGCs","x":582,"y":218,"f":6.2},{"t":"pSC","x":815,"y":195,"f":9},{"t":"Spermatozoa","x":910,"y":243,"f":6},{"t":"Spermatagonia","x":708,"y":363,"f":6.2},{"t":"Maturing sperm","x":742,"y":615,"f":6.2}]},"mark":{"type":"text","align":"left","color":"#111","fontWeight":"bold"},"encoding":{"x":{"field":"x","type":"quantitative"},"y":{"field":"y","type":"quantitative"},"text":{"field":"t"},"size":{"field":"f","type":"quantitative","scale":null}}},
{"data":{"values":[{"t":"UMAP 1","x":26,"y":720},{"t":"UMAP 1","x":614,"y":670}]},"mark":{"type":"text","angle":270,"fontSize":3.5,"align":"center","color":"#222"},"encoding":{"x":{"field":"x","type":"quantitative"},"y":{"field":"y","type":"quantitative"},"text":{"field":"t"}}}
],
"encoding":{"x":{"type":"quantitative","axis":null,"scale":{"domain":[-10,1089]}},"y":{"type":"quantitative","axis":null,"scale":{"domain":[849,0]}}}
}
]},
{"bounds":"flush","spacing":0,"vconcat":[
{"width":783,"height":41.5,"layer":[
{"data":{"values":[{"x":50,"x2":83.7,"c":"k"},{"x":83.7,"x2":117.3,"c":"r"},{"x":121,"x2":336.7,"c":"k"},{"x":339.3,"x2":373.3,"c":"k"},{"x":373.3,"x2":407,"c":"r"},{"x":413,"x2":446.7,"c":"k"},{"x":446.7,"x2":480,"c":"r"},{"x":486,"x2":519.7,"c":"k"},{"x":519.7,"x2":553.3,"c":"r"},{"x":559,"x2":593,"c":"k"},{"x":593,"x2":626.3,"c":"r"},{"x":632.3,"x2":666,"c":"k"},{"x":666,"x2":699.3,"c":"r"},{"x":705.3,"x2":739,"c":"k"},{"x":739,"x2":772.7,"c":"r"}]},"mark":{"type":"rect"},"encoding":{"x":{"field":"x","type":"quantitative"},"x2":{"field":"x2"},"y":{"datum":314.3,"type":"quantitative"},"y2":{"datum":319.7},"color":{"field":"c","type":"nominal","legend":null,"scale":{"domain":["k","r"],"range":["#000000","#ff0000"]}}}},
{"data":{"values":[{"x":342.3,"x2":498},{"x":615,"x2":771}]},"mark":{"type":"rule","color":"#999","strokeWidth":0.8},"encoding":{"x":{"field":"x","type":"quantitative"},"x2":{"field":"x2"},"y":{"datum":306.3,"type":"quantitative"}}},
{"data":{"values":[{"t":"pSC","x":84,"y":304},{"t":"Germ cells","x":222.7,"y":304},{"t":"Neuroglandular derivatives","x":556,"y":306}]},"mark":{"type":"text","align":"center","fontSize":8.4,"color":"#222"},"encoding":{"x":{"field":"x","type":"quantitative"},"y":{"field":"y","type":"quantitative"},"text":{"field":"t"}}},
{"data":{"values":[{"t":"D","x":0,"y":296}]},"mark":{"type":"text","align":"left","fontSize":13,"fontWeight":"bold","color":"#111"},"encoding":{"x":{"field":"x","type":"quantitative"},"y":{"field":"y","type":"quantitative"},"text":{"field":"t"}}}
],
"encoding":{"x":{"type":"quantitative","axis":null,"scale":{"domain":[0,783]}},"y":{"type":"quantitative","axis":null,"scale":{"domain":[326.5,285]}}}
},
{"width":783,"height":104.5,"data":{"name":"dots"},"layer":[
{"transform":[{"filter":"datum.g=='wt'"}],"mark":{"type":"circle","opacity":1},"encoding":{"x":{"field":"cell","type":"nominal"},"y":{"field":"gene","type":"nominal"},"size":{"field":"pct","type":"quantitative","legend":null,"scale":{"domain":[6,80],"range":[1,201]}},"color":{"field":"exp","type":"quantitative","legend":null,"scale":{"domain":[0,2.5],"range":["#e0e0e0","#000000"]}}}},
{"transform":[{"filter":"datum.g=='mut'"}],"mark":{"type":"circle","opacity":1},"encoding":{"x":{"field":"cell","type":"nominal"},"y":{"field":"gene","type":"nominal"},"size":{"field":"pct","type":"quantitative","legend":null,"scale":{"domain":[6,80],"range":[1,201]}},"color":{"field":"exp","type":"quantitative","legend":null,"scale":{"domain":[0,2.5],"range":["#cccccc","#8b0000"]}}}}
],
"resolve":{"scale":{"color":"independent"}},
"encoding":{"x":{"field":"cell","type":"nominal","title":null,"scale":{"type":"point","padding":0.6,"range":[43,783],"domain":["pSC_wildtype","pSC_nanos2.mutant","PGCs_wildtype","primary oocytes_wildtype","spermatagonia_wildtype","maturing sperm 1_wildtype","maturing sperm 2_wildtype","spermatozoa_wildtype","neuronal_wildtype","neuronal_nanos2.mutant","neuron.sensory_wildtype","neuron.sensory_nanos2.mutant","gland.mucous_wildtype","gland.mucous_nanos2.mutant","neuroglandular_wildtype","neuroglandular_nanos2.mutant","gland.unchar_wildtype","gland.unchar_nanos2.mutant","cnidocyte_wildtype","cnidocyte_nanos2.mutant"]},"axis":{"labelAngle":-45,"labelAlign":"right","labelBaseline":"middle","labelFontSize":9,"labelColor":"#444","labelLimit":200,"labelPadding":4,"tickColor":"#999","tickSize":2,"grid":true,"gridColor":"#f1f1f1","gridWidth":0.6,"domainColor":"#bbb","domainWidth":1.5}},"y":{"field":"gene","type":"nominal","title":null,"scale":{"type":"point","padding":0.8,"domain":["nanos2","nanos1","piwi1","vasa2","soxC","soxB(2)"]},"axis":{"offset":-43,"labelFontSize":10,"labelFontStyle":"italic","labelColor":"#333","labelPadding":3,"tickColor":"#999","tickSize":2,"grid":true,"gridColor":"#f1f1f1","gridWidth":0.6,"domainColor":"#bbb","domainWidth":1.5}}}
},
{"width":783,"height":143,"layer":[
{"data":{"values":[{"t":"Percent expressed","x":22,"y":535},{"t":"Average expression","x":22,"y":557.7},{"t":"Mutant","x":154,"y":552},{"t":"Wild type","x":154,"y":563.3}]},"mark":{"type":"text","align":"left","fontSize":8,"color":"#222"},"encoding":{"x":{"field":"x","type":"quantitative"},"y":{"field":"y","type":"quantitative"},"text":{"field":"t"}}},
{"data":{"values":[{"x":109,"y":534,"p":20},{"x":133,"y":534,"p":40},{"x":160.7,"y":534,"p":60},{"x":191,"y":534,"p":80}]},"mark":{"type":"circle","color":"#000","opacity":1},"encoding":{"x":{"field":"x","type":"quantitative"},"y":{"field":"y","type":"quantitative"},"size":{"field":"p","type":"quantitative","legend":null,"scale":{"domain":[6,80],"range":[1,201]}}}},
{"data":{"values":[{"t":"20","x":117.5,"y":534},{"t":"40","x":143,"y":534},{"t":"60","x":172,"y":534},{"t":"80","x":203.5,"y":534}]},"mark":{"type":"text","align":"left","fontSize":5.5,"fontWeight":"bold","color":"#222"},"encoding":{"x":{"field":"x","type":"quantitative"},"y":{"field":"y","type":"quantitative"},"text":{"field":"t"}}},
{"data":{"values":[{"t":"0.0","x":102,"y":571},{"t":"0.5","x":112,"y":571},{"t":"1.0","x":123,"y":571},{"t":"1.5","x":133,"y":571},{"t":"2.0","x":143,"y":571},{"t":"2.5","x":153,"y":571}]},"mark":{"type":"text","align":"center","fontSize":3.5,"color":"#333"},"encoding":{"x":{"field":"x","type":"quantitative"},"y":{"field":"y","type":"quantitative"},"text":{"field":"t"}}},
{"data":{"values":[{"x":104,"x2":109,"v":0.1},{"x":109,"x2":114,"v":0.4},{"x":114,"x2":119,"v":0.6},{"x":119,"x2":124,"v":0.9},{"x":124,"x2":129,"v":1.2},{"x":129,"x2":134,"v":1.4},{"x":134,"x2":139,"v":1.7},{"x":139,"x2":144,"v":2},{"x":144,"x2":149,"v":2.3},{"x":149,"x2":152.5,"v":2.5}]},"mark":{"type":"rect"},"encoding":{"x":{"field":"x","type":"quantitative"},"x2":{"field":"x2"},"y":{"datum":547.3,"type":"quantitative"},"y2":{"datum":557.3},"color":{"field":"v","type":"quantitative","legend":null,"scale":{"domain":[0,2.5],"range":["#d8c8c4","#8b0000"]}}}},
{"data":{"values":[{"x":104,"x2":109,"w":0.1},{"x":109,"x2":114,"w":0.4},{"x":114,"x2":119,"w":0.6},{"x":119,"x2":124,"w":0.9},{"x":124,"x2":129,"w":1.2},{"x":129,"x2":134,"w":1.4},{"x":134,"x2":139,"w":1.7},{"x":139,"x2":144,"w":2},{"x":144,"x2":149,"w":2.3},{"x":149,"x2":152.5,"w":2.5}]},"mark":{"type":"rect"},"encoding":{"x":{"field":"x","type":"quantitative"},"x2":{"field":"x2"},"y":{"datum":559,"type":"quantitative"},"y2":{"datum":568},"fill":{"field":"w","type":"quantitative","legend":null,"scale":{"domain":[0,2.5],"range":["#cccccc","#000000"]}}}}
],
"encoding":{"x":{"type":"quantitative","axis":null,"scale":{"domain":[0,783]}},"y":{"type":"quantitative","axis":null,"scale":{"domain":[574,431]}}}
}
]}
]}
